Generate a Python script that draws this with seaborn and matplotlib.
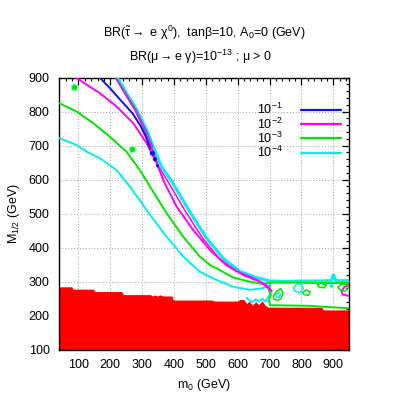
import matplotlib
matplotlib.use("Agg")
import matplotlib.pyplot as plt
from matplotlib.lines import Line2D
from matplotlib.ticker import MultipleLocator
import seaborn as sns

# ─── dados (m0, M1/2 em GeV) ───────────────────────────────────────────────
red_m0 = [40, 79, 84, 147, 152, 236, 241, 325, 333, 340, 348, 356, 366, 393, 398,
          520, 525, 600, 607, 620, 628, 636, 646, 656, 666, 676, 686, 696, 863, 868, 950]
red_top = [285, 285, 278, 278, 271, 271, 262, 262, 258, 261, 258, 261, 258, 258, 246,
           246, 243, 243, 248, 247, 236, 243, 231, 241, 232, 244, 230, 225, 225, 217, 217]

blue_left_m0 = [162, 200, 241, 270, 293, 310, 326]
blue_left_m12 = [905, 868, 825, 795, 761, 730, 690]
blue_right_m0 = [326, 333, 312, 281, 249, 218]
blue_right_m12 = [690, 697, 746, 805, 854, 900]
blue_dot_m0 = [332, 340, 348]
blue_dot_m12 = [678, 660, 641]

mag_in_m0 = [92, 168, 220, 272, 314, 346, 368, 408, 460, 513, 565, 617, 670, 706]
mag_in_m12 = [900, 854, 815, 766, 707, 648, 595, 521, 452, 393, 348, 320, 300, 273]
mag_out_m0 = [216, 245, 277, 307, 328, 352, 378, 437, 490, 542, 594, 646, 688, 706]
mag_out_m12 = [900, 854, 805, 746, 697, 638, 599, 505, 428, 368, 332, 312, 292, 273]
mag_arc_m0 = [950, 935, 925, 930, 950]
mag_arc_m12 = [290, 285, 272, 262, 258]

green_m0 = [40, 95, 147, 199, 251, 293, 325, 377, 429, 481, 513, 534, 586, 638, 680,
            701, 750, 800, 850, 900, 950]
green_m12 = [825, 800, 766, 726, 682, 628, 579, 501, 432, 374, 349, 339, 312, 300, 293,
             297, 297, 297, 296, 296, 296]
green_low_m0 = [701, 697, 703, 698, 701, 760, 830, 868, 950]
green_low_m12 = [288, 275, 260, 245, 231, 230, 229, 226, 222]
green_dot_m0 = [86, 267]
green_dot_m12 = [872, 689]

cyan_low_m0 = [40, 95, 110, 126, 168, 220, 262, 325, 377, 429, 481, 534, 586, 638, 680, 701, 701]
cyan_low_m12 = [722, 702, 692, 682, 663, 628, 579, 496, 432, 374, 329, 305, 285, 276, 281, 290, 301]
cyan_out_m0 = [222, 251, 283, 314, 335, 361, 390, 450, 502, 555, 607, 659, 701, 750, 800,
               850, 893, 900, 907, 950]
cyan_out_m12 = [900, 854, 805, 746, 697, 638, 599, 505, 428, 368, 330, 312, 302, 301, 302,
                302, 303, 320, 303, 303]
cyan_red_m0 = [628, 636, 646, 656, 666, 676, 686, 696, 705, 700]
cyan_red_m12 = [252, 246, 240, 248, 241, 250, 242, 256, 265, 280]

# pequenas ilhas de contorno
blobs = [
    ("g", [712, 722, 735, 742, 736, 724, 714, 712], [258, 272, 280, 268, 250, 245, 248, 258]),
    ("c", [720, 728, 734, 730, 722, 720], [262, 268, 262, 254, 255, 262]),
    ("c", [775, 785, 800, 805, 795, 780, 775], [282, 294, 292, 280, 268, 272, 282]),
    ("g", [805, 815, 828, 822, 808, 805], [268, 276, 270, 260, 262, 268]),
    ("g", [850, 862, 878, 872, 856, 850], [290, 296, 290, 282, 284, 290]),
    ("c", [890, 895, 899, 894, 890], [287, 292, 288, 284, 287]),
    ("g", [915, 925, 943, 948, 935, 918, 915], [285, 292, 292, 280, 272, 278, 285]),
]

levels = ["$10^{-1}$", "$10^{-2}$", "$10^{-3}$", "$10^{-4}$"]
level_colors = ["#1010f0", "#ff00ff", "#00e600", "#00f0f0"]

# ─── estilo ────────────────────────────────────────────────────────────────
sns.set_style("white")
plt.rcParams["font.family"] = ["Liberation Sans", "DejaVu Sans"]
plt.rcParams["mathtext.fontset"] = "custom"
plt.rcParams["mathtext.rm"] = "Liberation Sans"
plt.rcParams["mathtext.it"] = "Liberation Sans"
plt.rcParams["mathtext.bf"] = "Liberation Sans:bold"
plt.rcParams["mathtext.fallback"] = "stixsans"
for k in ["text.color", "axes.labelcolor", "xtick.color", "ytick.color"]:
    plt.rcParams[k] = "black"

fig = plt.figure(figsize=(3.99, 3.99), dpi=100)
ax = fig.add_axes([0.1486, 0.1236, 0.7268, 0.6817])

c_b, c_m, c_g, c_c = level_colors
blob_col = {"g": c_g, "c": c_c}


def curve(x, y, color, lw=1.4, z=3):
    sns.lineplot(x=x, y=y, sort=False, estimator=None, color=color, lw=lw,
                 ax=ax, legend=False, zorder=z)


ax.fill_between(red_m0, 100, red_top, color="#ff0000", lw=0, zorder=2)

curve(cyan_low_m0, cyan_low_m12, c_c)
curve(cyan_red_m0, cyan_red_m12, c_c)
curve(cyan_out_m0, cyan_out_m12, c_c, lw=2.2)
curve(green_m0, green_m12, c_g)
curve(green_low_m0, green_low_m12, c_g)
curve(mag_in_m0, mag_in_m12, c_m)
curve(mag_out_m0, mag_out_m12, c_m, lw=1.1)
curve(mag_arc_m0, mag_arc_m12, c_m)
curve(blue_left_m0, blue_left_m12, c_b)
curve(blue_right_m0, blue_right_m12, "#7a5aa8", lw=0.9)
for key, bx, by in blobs:
    curve(bx, by, blob_col[key], lw=1.1)
sns.scatterplot(x=blue_dot_m0, y=blue_dot_m12, color=c_b, s=[14, 10, 5], lw=0, ax=ax,
                legend=False, zorder=4)
sns.scatterplot(x=green_dot_m0, y=green_dot_m12, color=c_g, s=22, edgecolor="#88ffcc",
                lw=0.8, ax=ax, legend=False, zorder=4)

ax.set_xlim(40, 950)
ax.set_ylim(100, 900)
ax.xaxis.set_major_locator(MultipleLocator(100))
ax.xaxis.set_minor_locator(MultipleLocator(20))
ax.yaxis.set_major_locator(MultipleLocator(100))
ax.yaxis.set_minor_locator(MultipleLocator(20))
ax.tick_params(which="both", direction="in", top=True, right=True, labelsize=9,
               color="black", labelcolor="black", pad=7)
ax.tick_params(which="major", length=5, width=0.9)
ax.tick_params(which="minor", length=2.5, width=0.8)
ax.grid(True, which="major", ls=(0, (1, 2)), color="#a0a0a0", lw=0.7)
ax.set_axisbelow(True)
for s in ax.spines.values():
    s.set_color("black")
    s.set_linewidth(1.0)

ax.set_xlabel("m$_0$ (GeV)", fontsize=9, labelpad=4)
ax.set_ylabel("M$_{1/2}$ (GeV)", fontsize=9, labelpad=5)

fig.text(0.511, 0.917, r"BR($\tilde{\tau}\rightarrow$ e $\chi^0$),  tan$\beta$=10, A$_0$=0 (GeV)",
         ha="center", va="center", fontsize=9)
fig.text(0.502, 0.857, r"BR($\mu\rightarrow$e $\gamma$)=10$^{-13}$ ; $\mu$ > 0",
         ha="center", va="center", fontsize=9)

handles = [Line2D([], [], color=c, lw=1.6) for c in level_colors]
ax.legend(handles, levels, loc="upper right", bbox_to_anchor=(0.972, 0.91),
          frameon=False, markerfirst=False, fontsize=9, handlelength=3.2,
          handletextpad=1.5, labelspacing=-0.08, borderpad=0, borderaxespad=0)

fig.savefig("out.png", dpi=100)
plt.close()
